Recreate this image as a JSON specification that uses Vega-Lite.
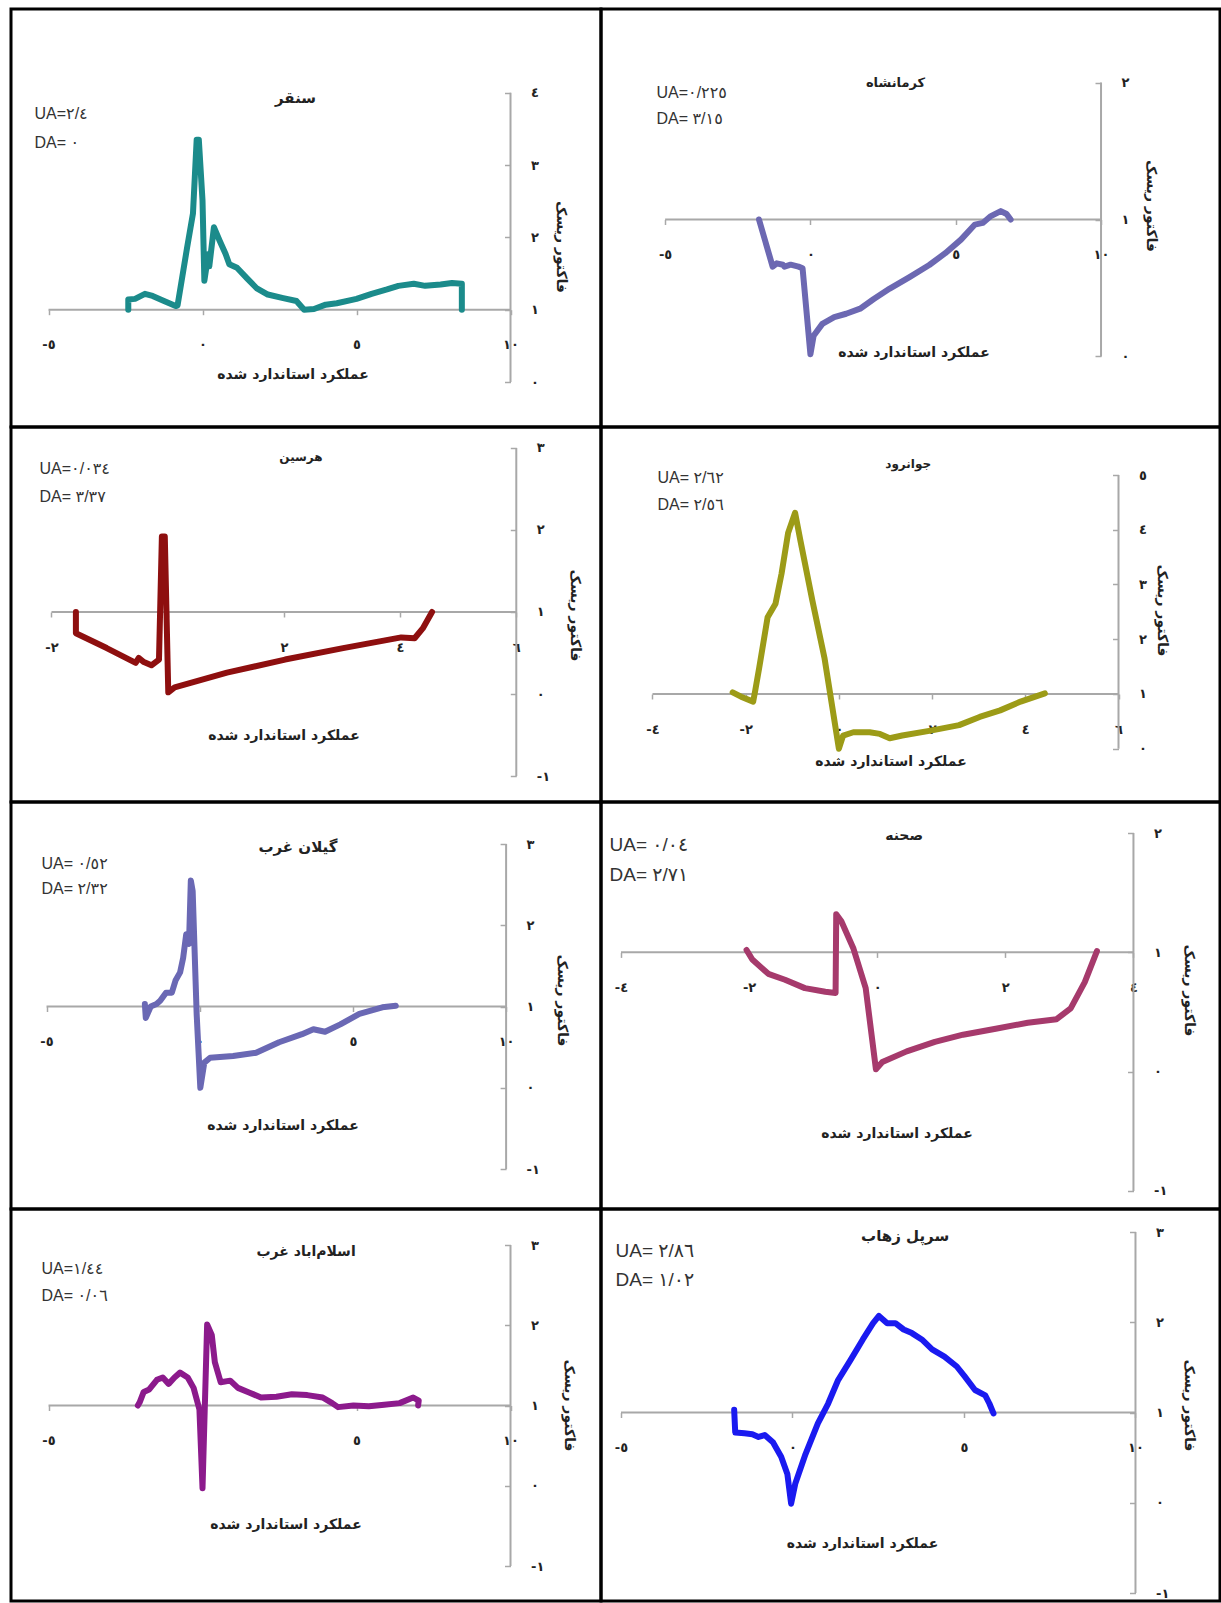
{
"$schema": "https://vega.github.io/schema/vega-lite/v6.json",
"padding": {"left": 9, "top": 7, "right": 0, "bottom": 0},
"background": "white",
"datasets": {
"meta": [
{"p":1,"title":"سنقر","ua":"UA=٢/٤","da":"DA= ٠"},
{"p":2,"title":"کرمانشاه","ua":"UA=٠/٢٢٥","da":"DA= ٣/١٥"},
{"p":3,"title":"هرسین","ua":"UA=٠/٠٣٤","da":"DA= ٣/٣٧"},
{"p":4,"title":"جوانرود","ua":"UA= ٢/٦٢","da":"DA= ٢/٥٦"},
{"p":5,"title":"گیلان غرب","ua":"UA= ٠/٥٢","da":"DA= ٢/٣٢"},
{"p":6,"title":"صحنه","ua":"UA= ٠/٠٤","da":"DA= ٢/٧١"},
{"p":7,"title":"اسلام‌اباد غرب","ua":"UA=١/٤٤","da":"DA= ٠/٠٦"},
{"p":8,"title":"سرپل زهاب","ua":"UA= ٢/٨٦","da":"DA= ١/٠٢"}
],
"pts": [
{"p":1,"i":0,"x":-2.41,"y":1.0},{"p":1,"i":1,"x":-2.41,"y":1.14},{"p":1,"i":2,"x":-2.19,"y":1.15},{"p":1,"i":3,"x":-1.87,"y":1.22},{"p":1,"i":4,"x":-1.62,"y":1.19},{"p":1,"i":5,"x":-1.25,"y":1.12},{"p":1,"i":6,"x":-0.87,"y":1.05},{"p":1,"i":7,"x":-0.81,"y":1.06},{"p":1,"i":8,"x":-0.5,"y":1.86},{"p":1,"i":9,"x":-0.31,"y":2.33},{"p":1,"i":10,"x":-0.19,"y":3.35},{"p":1,"i":11,"x":-0.12,"y":3.35},{"p":1,"i":12,"x":0.0,"y":2.51},{"p":1,"i":13,"x":0.06,"y":1.4},{"p":1,"i":14,"x":0.19,"y":1.77},{"p":1,"i":15,"x":0.22,"y":1.6},{"p":1,"i":16,"x":0.37,"y":2.14},{"p":1,"i":17,"x":0.56,"y":1.95},{"p":1,"i":18,"x":0.75,"y":1.77},{"p":1,"i":19,"x":0.87,"y":1.63},{"p":1,"i":20,"x":1.12,"y":1.58},{"p":1,"i":21,"x":1.43,"y":1.44},{"p":1,"i":22,"x":1.75,"y":1.3},{"p":1,"i":23,"x":2.12,"y":1.21},{"p":1,"i":24,"x":2.62,"y":1.16},{"p":1,"i":25,"x":3.05,"y":1.12},{"p":1,"i":26,"x":3.3,"y":1.0},{"p":1,"i":27,"x":3.62,"y":1.01},{"p":1,"i":28,"x":4.0,"y":1.07},{"p":1,"i":29,"x":4.36,"y":1.09},{"p":1,"i":30,"x":5.0,"y":1.15},{"p":1,"i":31,"x":5.49,"y":1.22},{"p":1,"i":32,"x":5.99,"y":1.28},{"p":1,"i":33,"x":6.36,"y":1.33},{"p":1,"i":34,"x":6.86,"y":1.36},{"p":1,"i":35,"x":7.23,"y":1.33},{"p":1,"i":36,"x":7.73,"y":1.35},{"p":1,"i":37,"x":8.1,"y":1.37},{"p":1,"i":38,"x":8.42,"y":1.36},{"p":1,"i":39,"x":8.42,"y":1.0},
{"p":2,"i":0,"x":-1.77,"y":1.0},{"p":2,"i":1,"x":-1.3,"y":0.656},{"p":2,"i":2,"x":-1.16,"y":0.68},{"p":2,"i":3,"x":-0.95,"y":0.67},{"p":2,"i":4,"x":-0.89,"y":0.656},{"p":2,"i":5,"x":-0.68,"y":0.67},{"p":2,"i":6,"x":-0.41,"y":0.656},{"p":2,"i":7,"x":-0.27,"y":0.644},{"p":2,"i":8,"x":0.0,"y":0.017},{"p":2,"i":9,"x":0.11,"y":0.152},{"p":2,"i":10,"x":0.41,"y":0.238},{"p":2,"i":11,"x":0.82,"y":0.287},{"p":2,"i":12,"x":1.23,"y":0.312},{"p":2,"i":13,"x":1.71,"y":0.349},{"p":2,"i":14,"x":2.18,"y":0.42},{"p":2,"i":15,"x":2.73,"y":0.496},{"p":2,"i":16,"x":3.41,"y":0.58},{"p":2,"i":17,"x":4.09,"y":0.668},{"p":2,"i":18,"x":4.64,"y":0.754},{"p":2,"i":19,"x":5.18,"y":0.853},{"p":2,"i":20,"x":5.66,"y":0.963},{"p":2,"i":21,"x":5.93,"y":0.975},{"p":2,"i":22,"x":6.21,"y":1.025},{"p":2,"i":23,"x":6.55,"y":1.061},{"p":2,"i":24,"x":6.75,"y":1.04},{"p":2,"i":25,"x":6.89,"y":1.0},
{"p":3,"i":0,"x":-1.58,"y":1.0},{"p":3,"i":1,"x":-1.58,"y":0.74},{"p":3,"i":2,"x":-1.05,"y":0.56},{"p":3,"i":3,"x":-0.55,"y":0.38},{"p":3,"i":4,"x":-0.5,"y":0.44},{"p":3,"i":5,"x":-0.41,"y":0.39},{"p":3,"i":6,"x":-0.28,"y":0.35},{"p":3,"i":7,"x":-0.15,"y":0.42},{"p":3,"i":8,"x":-0.1,"y":1.92},{"p":3,"i":9,"x":-0.05,"y":1.92},{"p":3,"i":10,"x":0.01,"y":0.02},{"p":3,"i":11,"x":0.12,"y":0.08},{"p":3,"i":12,"x":1.02,"y":0.26},{"p":3,"i":13,"x":2.02,"y":0.42},{"p":3,"i":14,"x":3.02,"y":0.56},{"p":3,"i":15,"x":4.02,"y":0.69},{"p":3,"i":16,"x":4.25,"y":0.68},{"p":3,"i":17,"x":4.39,"y":0.8},{"p":3,"i":18,"x":4.55,"y":1.0},
{"p":4,"i":0,"x":-2.28,"y":1.03},{"p":4,"i":1,"x":-2.1,"y":0.95},{"p":4,"i":2,"x":-1.84,"y":0.86},{"p":4,"i":3,"x":-1.8,"y":1.04},{"p":4,"i":4,"x":-1.71,"y":1.48},{"p":4,"i":5,"x":-1.53,"y":2.4},{"p":4,"i":6,"x":-1.36,"y":2.65},{"p":4,"i":7,"x":-1.23,"y":3.2},{"p":4,"i":8,"x":-1.09,"y":3.94},{"p":4,"i":9,"x":-0.94,"y":4.31},{"p":4,"i":10,"x":-0.83,"y":3.82},{"p":4,"i":11,"x":-0.57,"y":2.71},{"p":4,"i":12,"x":-0.31,"y":1.66},{"p":4,"i":13,"x":0.0,"y":0.0},{"p":4,"i":14,"x":0.09,"y":0.24},{"p":4,"i":15,"x":0.31,"y":0.3},{"p":4,"i":16,"x":0.66,"y":0.3},{"p":4,"i":17,"x":0.88,"y":0.27},{"p":4,"i":18,"x":1.09,"y":0.19},{"p":4,"i":19,"x":1.36,"y":0.24},{"p":4,"i":20,"x":1.97,"y":0.33},{"p":4,"i":21,"x":2.58,"y":0.43},{"p":4,"i":22,"x":3.02,"y":0.58},{"p":4,"i":23,"x":3.46,"y":0.7},{"p":4,"i":24,"x":3.9,"y":0.86},{"p":4,"i":25,"x":4.42,"y":1.01},
{"p":5,"i":0,"x":-1.79,"y":1.03},{"p":5,"i":1,"x":-1.76,"y":0.86},{"p":5,"i":2,"x":-1.6,"y":1.0},{"p":5,"i":3,"x":-1.41,"y":1.03},{"p":5,"i":4,"x":-1.29,"y":1.07},{"p":5,"i":5,"x":-1.1,"y":1.17},{"p":5,"i":6,"x":-0.91,"y":1.17},{"p":5,"i":7,"x":-0.79,"y":1.32},{"p":5,"i":8,"x":-0.64,"y":1.42},{"p":5,"i":9,"x":-0.54,"y":1.6},{"p":5,"i":10,"x":-0.44,"y":1.89},{"p":5,"i":11,"x":-0.35,"y":1.77},{"p":5,"i":12,"x":-0.29,"y":2.55},{"p":5,"i":13,"x":-0.23,"y":2.42},{"p":5,"i":14,"x":-0.1,"y":0.91},{"p":5,"i":15,"x":0.02,"y":0.0},{"p":5,"i":16,"x":0.15,"y":0.31},{"p":5,"i":17,"x":0.34,"y":0.37},{"p":5,"i":18,"x":1.09,"y":0.39},{"p":5,"i":19,"x":1.84,"y":0.43},{"p":5,"i":20,"x":2.59,"y":0.56},{"p":5,"i":21,"x":3.34,"y":0.66},{"p":5,"i":22,"x":3.71,"y":0.72},{"p":5,"i":23,"x":4.09,"y":0.69},{"p":5,"i":24,"x":4.59,"y":0.78},{"p":5,"i":25,"x":5.21,"y":0.91},{"p":5,"i":26,"x":5.96,"y":0.99},{"p":5,"i":27,"x":6.4,"y":1.01},
{"p":6,"i":0,"x":-2.04,"y":1.02},{"p":6,"i":1,"x":-1.95,"y":0.94},{"p":6,"i":2,"x":-1.7,"y":0.82},{"p":6,"i":3,"x":-1.44,"y":0.77},{"p":6,"i":4,"x":-1.13,"y":0.7},{"p":6,"i":5,"x":-0.81,"y":0.67},{"p":6,"i":6,"x":-0.65,"y":0.66},{"p":6,"i":7,"x":-0.64,"y":1.32},{"p":6,"i":8,"x":-0.56,"y":1.26},{"p":6,"i":9,"x":-0.37,"y":1.03},{"p":6,"i":10,"x":-0.18,"y":0.7},{"p":6,"i":11,"x":-0.02,"y":0.02},{"p":6,"i":12,"x":0.08,"y":0.08},{"p":6,"i":13,"x":0.46,"y":0.17},{"p":6,"i":14,"x":0.9,"y":0.25},{"p":6,"i":15,"x":1.34,"y":0.31},{"p":6,"i":16,"x":1.85,"y":0.36},{"p":6,"i":17,"x":2.35,"y":0.41},{"p":6,"i":18,"x":2.8,"y":0.44},{"p":6,"i":19,"x":3.02,"y":0.53},{"p":6,"i":20,"x":3.24,"y":0.75},{"p":6,"i":21,"x":3.43,"y":1.01},
{"p":7,"i":0,"x":-2.1,"y":1.0},{"p":7,"i":1,"x":-2.04,"y":1.04},{"p":7,"i":2,"x":-1.91,"y":1.17},{"p":7,"i":3,"x":-1.73,"y":1.2},{"p":7,"i":4,"x":-1.48,"y":1.32},{"p":7,"i":5,"x":-1.29,"y":1.35},{"p":7,"i":6,"x":-1.1,"y":1.27},{"p":7,"i":7,"x":-0.91,"y":1.35},{"p":7,"i":8,"x":-0.73,"y":1.41},{"p":7,"i":9,"x":-0.48,"y":1.35},{"p":7,"i":10,"x":-0.29,"y":1.22},{"p":7,"i":11,"x":-0.1,"y":0.95},{"p":7,"i":12,"x":0.0,"y":-0.03},{"p":7,"i":13,"x":0.15,"y":2.01},{"p":7,"i":14,"x":0.3,"y":1.88},{"p":7,"i":15,"x":0.4,"y":1.54},{"p":7,"i":16,"x":0.59,"y":1.29},{"p":7,"i":17,"x":0.9,"y":1.31},{"p":7,"i":18,"x":1.15,"y":1.22},{"p":7,"i":19,"x":1.53,"y":1.16},{"p":7,"i":20,"x":1.9,"y":1.1},{"p":7,"i":21,"x":2.4,"y":1.11},{"p":7,"i":22,"x":2.9,"y":1.14},{"p":7,"i":23,"x":3.4,"y":1.13},{"p":7,"i":24,"x":3.9,"y":1.1},{"p":7,"i":25,"x":4.21,"y":1.03},{"p":7,"i":26,"x":4.4,"y":0.98},{"p":7,"i":27,"x":4.9,"y":1.0},{"p":7,"i":28,"x":5.4,"y":0.99},{"p":7,"i":29,"x":5.9,"y":1.01},{"p":7,"i":30,"x":6.4,"y":1.03},{"p":7,"i":31,"x":6.84,"y":1.1},{"p":7,"i":32,"x":7.02,"y":1.06},{"p":7,"i":33,"x":7.0,"y":1.0},
{"p":8,"i":0,"x":-1.7,"y":1.03},{"p":8,"i":1,"x":-1.67,"y":0.78},{"p":8,"i":2,"x":-1.4,"y":0.77},{"p":8,"i":3,"x":-1.17,"y":0.76},{"p":8,"i":4,"x":-0.99,"y":0.73},{"p":8,"i":5,"x":-0.81,"y":0.75},{"p":8,"i":6,"x":-0.57,"y":0.67},{"p":8,"i":7,"x":-0.33,"y":0.51},{"p":8,"i":8,"x":-0.15,"y":0.32},{"p":8,"i":9,"x":-0.04,"y":-0.01},{"p":8,"i":10,"x":0.08,"y":0.21},{"p":8,"i":11,"x":0.38,"y":0.54},{"p":8,"i":12,"x":0.74,"y":0.88},{"p":8,"i":13,"x":1.04,"y":1.1},{"p":8,"i":14,"x":1.33,"y":1.36},{"p":8,"i":15,"x":1.69,"y":1.58},{"p":8,"i":16,"x":2.05,"y":1.81},{"p":8,"i":17,"x":2.35,"y":1.99},{"p":8,"i":18,"x":2.52,"y":2.07},{"p":8,"i":19,"x":2.76,"y":1.99},{"p":8,"i":20,"x":3.0,"y":1.99},{"p":8,"i":21,"x":3.24,"y":1.92},{"p":8,"i":22,"x":3.48,"y":1.88},{"p":8,"i":23,"x":3.77,"y":1.81},{"p":8,"i":24,"x":4.07,"y":1.7},{"p":8,"i":25,"x":4.43,"y":1.62},{"p":8,"i":26,"x":4.79,"y":1.51},{"p":8,"i":27,"x":5.02,"y":1.4},{"p":8,"i":28,"x":5.32,"y":1.25},{"p":8,"i":29,"x":5.62,"y":1.19},{"p":8,"i":30,"x":5.74,"y":1.1},{"p":8,"i":31,"x":5.86,"y":0.99}
]
},
"columns": 2,
"spacing": 0,
"bounds": "flush",
"align": "each",
"concat": [
{"width": 590, "height": 418, "layer": [
 {"data": {"name": "meta"}, "transform": [{"filter": "datum.p == 1"}], "mark": {"type": "rule", "color": "#a8a8a8", "strokeWidth": 2}, "encoding": {"x": {"datum": -5, "type": "quantitative"}, "x2": {"datum": 10}, "y": {"datum": 1, "type": "quantitative"}}},
 {"data": {"name": "meta"}, "transform": [{"filter": "datum.p == 1"}], "mark": {"type": "rule", "color": "#a8a8a8", "strokeWidth": 2}, "encoding": {"x": {"datum": 10, "type": "quantitative"}, "y": {"datum": 0, "type": "quantitative"}, "y2": {"datum": 4}}},
 {"data": {"name": "pts"}, "transform": [{"filter": "datum.p == 1"}], "mark": {"type": "line", "color": "#1b8b8b", "strokeWidth": 6, "strokeJoin": "round", "strokeCap": "round"},
  "encoding": {
   "x": {"field": "x", "type": "quantitative", "scale": {"domain": [-6.218, 12.938], "nice": false, "zero": false}, "axis": {"orient": "bottom", "format": "d", "values": [-5, 0, 5, 10], "offset": -117.3, "title": "عملکرد استاندارد شده", "titlePadding": 16, "titleX": 281.5, "labelExpr": "replace(replace(replace(replace(replace(replace(replace(replace(replace(replace(replace(datum.label,'−','-'),'0','٠'),'1','١'),'2','٢'),'3','٣'),'4','٤'),'5','٥'),'6','٦'),'7','٧'),'8','٨'),'9','٩')"}},
   "y": {"field": "y", "type": "quantitative", "scale": {"domain": [-0.622, 5.159], "nice": false, "zero": false}, "axis": {"orient": "right", "format": "d", "values": [0, 1, 2, 3, 4], "offset": -90.5, "title": "فاکتور ریسک", "titlePadding": 15, "titleY": 237.5, "labelExpr": "replace(replace(replace(replace(replace(replace(replace(replace(replace(replace(replace(datum.label,'−','-'),'0','٠'),'1','١'),'2','٢'),'3','٣'),'4','٤'),'5','٥'),'6','٦'),'7','٧'),'8','٨'),'9','٩')"}},
   "order": {"field": "i"}}},
 {"data": {"name": "meta"}, "transform": [{"filter": "datum.p == 1"}], "mark": {"type": "text", "font": "DejaVu Sans", "fontWeight": "bold", "fontSize": 15, "color": "#222", "align": "center", "baseline": "middle"}, "encoding": {"x": {"datum": 3.02, "type": "quantitative"}, "y": {"datum": 3.93, "type": "quantitative"}, "text": {"field": "title"}}},
 {"data": {"name": "meta"}, "transform": [{"filter": "datum.p == 1"}], "mark": {"type": "text", "font": "Liberation Sans, DejaVu Sans", "fontSize": 16, "color": "#333", "align": "left", "baseline": "middle"}, "encoding": {"x": {"datum": -5.455, "type": "quantitative"}, "y": {"datum": 3.70, "type": "quantitative"}, "text": {"field": "ua"}}},
 {"data": {"name": "meta"}, "transform": [{"filter": "datum.p == 1"}], "mark": {"type": "text", "font": "Liberation Sans, DejaVu Sans", "fontSize": 16, "color": "#333", "align": "left", "baseline": "middle"}, "encoding": {"x": {"datum": -5.455, "type": "quantitative"}, "y": {"datum": 3.304, "type": "quantitative"}, "text": {"field": "da"}}}
]},
{"width": 619, "height": 418, "layer": [
 {"data": {"name": "meta"}, "transform": [{"filter": "datum.p == 2"}], "mark": {"type": "rule", "color": "#a8a8a8", "strokeWidth": 2}, "encoding": {"x": {"datum": -5, "type": "quantitative"}, "x2": {"datum": 10}, "y": {"datum": 1, "type": "quantitative"}}},
 {"data": {"name": "meta"}, "transform": [{"filter": "datum.p == 2"}], "mark": {"type": "rule", "color": "#a8a8a8", "strokeWidth": 2}, "encoding": {"x": {"datum": 10, "type": "quantitative"}, "y": {"datum": 0, "type": "quantitative"}, "y2": {"datum": 2}}},
 {"data": {"name": "pts"}, "transform": [{"filter": "datum.p == 2"}], "mark": {"type": "line", "color": "#6c68b2", "strokeWidth": 6, "strokeJoin": "round", "strokeCap": "round"},
  "encoding": {
   "x": {"field": "x", "type": "quantitative", "scale": {"domain": [-7.206, 14.094], "nice": false, "zero": false}, "axis": {"orient": "bottom", "format": "d", "values": [-5, 0, 5, 10], "offset": -207.5, "title": "عملکرد استاندارد شده", "titlePadding": 84, "titleX": 312.5, "labelExpr": "replace(replace(replace(replace(replace(replace(replace(replace(replace(replace(replace(datum.label,'−','-'),'0','٠'),'1','١'),'2','٢'),'3','٣'),'4','٤'),'5','٥'),'6','٦'),'7','٧'),'8','٨'),'9','٩')"}},
   "y": {"field": "y", "type": "quantitative", "scale": {"domain": [-0.5146, 2.5365], "nice": false, "zero": false}, "axis": {"orient": "right", "format": "d", "values": [0, 1, 2], "offset": -119, "title": "فاکتور ریسک", "titlePadding": 15, "titleY": 196.5, "labelExpr": "replace(replace(replace(replace(replace(replace(replace(replace(replace(replace(replace(datum.label,'−','-'),'0','٠'),'1','١'),'2','٢'),'3','٣'),'4','٤'),'5','٥'),'6','٦'),'7','٧'),'8','٨'),'9','٩')"}},
   "order": {"field": "i"}}},
 {"data": {"name": "meta"}, "transform": [{"filter": "datum.p == 2"}], "mark": {"type": "text", "font": "DejaVu Sans", "fontWeight": "bold", "fontSize": 13, "color": "#222", "align": "center", "baseline": "middle"}, "encoding": {"x": {"datum": 2.928, "type": "quantitative"}, "y": {"datum": 1.993, "type": "quantitative"}, "text": {"field": "title"}}},
 {"data": {"name": "meta"}, "transform": [{"filter": "datum.p == 2"}], "mark": {"type": "text", "font": "Liberation Sans, DejaVu Sans", "fontSize": 16, "color": "#333", "align": "left", "baseline": "middle"}, "encoding": {"x": {"datum": -5.296, "type": "quantitative"}, "y": {"datum": 1.927, "type": "quantitative"}, "text": {"field": "ua"}}},
 {"data": {"name": "meta"}, "transform": [{"filter": "datum.p == 2"}], "mark": {"type": "text", "font": "Liberation Sans, DejaVu Sans", "fontSize": 16, "color": "#333", "align": "left", "baseline": "middle"}, "encoding": {"x": {"datum": -5.296, "type": "quantitative"}, "y": {"datum": 1.73, "type": "quantitative"}, "text": {"field": "da"}}}
]},
{"width": 590, "height": 375, "layer": [
 {"data": {"name": "meta"}, "transform": [{"filter": "datum.p == 3"}], "mark": {"type": "rule", "color": "#a8a8a8", "strokeWidth": 2}, "encoding": {"x": {"datum": -2, "type": "quantitative"}, "x2": {"datum": 6}, "y": {"datum": 1, "type": "quantitative"}}},
 {"data": {"name": "meta"}, "transform": [{"filter": "datum.p == 3"}], "mark": {"type": "rule", "color": "#a8a8a8", "strokeWidth": 2}, "encoding": {"x": {"datum": 6, "type": "quantitative"}, "y": {"datum": -1, "type": "quantitative"}, "y2": {"datum": 3}}},
 {"data": {"name": "pts"}, "transform": [{"filter": "datum.p == 3"}], "mark": {"type": "line", "color": "#8e0f0f", "strokeWidth": 6, "strokeJoin": "round", "strokeCap": "round"},
  "encoding": {
   "x": {"field": "x", "type": "quantitative", "scale": {"domain": [-2.697, 7.458], "nice": false, "zero": false}, "axis": {"orient": "bottom", "format": "d", "values": [-2, 0, 2, 4, 6], "offset": -190, "title": "عملکرد استاندارد شده", "titlePadding": 74, "titleX": 272.5, "labelExpr": "replace(replace(replace(replace(replace(replace(replace(replace(replace(replace(replace(datum.label,'−','-'),'0','٠'),'1','١'),'2','٢'),'3','٣'),'4','٤'),'5','٥'),'6','٦'),'7','٧'),'8','٨'),'9','٩')"}},
   "y": {"field": "y", "type": "quantitative", "scale": {"domain": [-1.317, 3.256], "nice": false, "zero": false}, "axis": {"orient": "right", "format": "d", "values": [-1, 0, 1, 2, 3], "offset": -84.7, "title": "فاکتور ریسک", "titlePadding": 18, "titleY": 188, "labelExpr": "replace(replace(replace(replace(replace(replace(replace(replace(replace(replace(replace(datum.label,'−','-'),'0','٠'),'1','١'),'2','٢'),'3','٣'),'4','٤'),'5','٥'),'6','٦'),'7','٧'),'8','٨'),'9','٩')"}},
   "order": {"field": "i"}}},
 {"data": {"name": "meta"}, "transform": [{"filter": "datum.p == 3"}], "mark": {"type": "text", "font": "DejaVu Sans", "fontWeight": "bold", "fontSize": 12, "color": "#222", "align": "center", "baseline": "middle"}, "encoding": {"x": {"datum": 2.294, "type": "quantitative"}, "y": {"datum": 2.885, "type": "quantitative"}, "text": {"field": "title"}}},
 {"data": {"name": "meta"}, "transform": [{"filter": "datum.p == 3"}], "mark": {"type": "text", "font": "Liberation Sans, DejaVu Sans", "fontSize": 16, "color": "#333", "align": "left", "baseline": "middle"}, "encoding": {"x": {"datum": -2.206, "type": "quantitative"}, "y": {"datum": 2.744, "type": "quantitative"}, "text": {"field": "ua"}}},
 {"data": {"name": "meta"}, "transform": [{"filter": "datum.p == 3"}], "mark": {"type": "text", "font": "Liberation Sans, DejaVu Sans", "fontSize": 16, "color": "#333", "align": "left", "baseline": "middle"}, "encoding": {"x": {"datum": -2.206, "type": "quantitative"}, "y": {"datum": 2.397, "type": "quantitative"}, "text": {"field": "da"}}}
]},
{"width": 619, "height": 375, "layer": [
 {"data": {"name": "meta"}, "transform": [{"filter": "datum.p == 4"}], "mark": {"type": "rule", "color": "#a8a8a8", "strokeWidth": 2}, "encoding": {"x": {"datum": -4, "type": "quantitative"}, "x2": {"datum": 6}, "y": {"datum": 1, "type": "quantitative"}}},
 {"data": {"name": "meta"}, "transform": [{"filter": "datum.p == 4"}], "mark": {"type": "rule", "color": "#a8a8a8", "strokeWidth": 2}, "encoding": {"x": {"datum": 6, "type": "quantitative"}, "y": {"datum": 0, "type": "quantitative"}, "y2": {"datum": 5}}},
 {"data": {"name": "pts"}, "transform": [{"filter": "datum.p == 4"}], "mark": {"type": "line", "color": "#9c9b17", "strokeWidth": 6, "strokeJoin": "round", "strokeCap": "round"},
  "encoding": {
   "x": {"field": "x", "type": "quantitative", "scale": {"domain": [-5.105, 8.178], "nice": false, "zero": false}, "axis": {"orient": "bottom", "format": "d", "values": [-4, -2, 0, 2, 4, 6], "offset": -108, "title": "عملکرد استاندارد شده", "titlePadding": 18, "titleX": 289.5, "labelExpr": "replace(replace(replace(replace(replace(replace(replace(replace(replace(replace(replace(datum.label,'−','-'),'0','٠'),'1','١'),'2','٢'),'3','٣'),'4','٤'),'5','٥'),'6','٦'),'7','٧'),'8','٨'),'9','٩')"}},
   "y": {"field": "y", "type": "quantitative", "scale": {"domain": [-0.974, 5.877], "nice": false, "zero": false}, "axis": {"orient": "right", "format": "d", "values": [0, 1, 2, 3, 4, 5], "offset": -101.5, "title": "فاکتور ریسک", "titlePadding": 8, "titleY": 183, "labelExpr": "replace(replace(replace(replace(replace(replace(replace(replace(replace(replace(replace(datum.label,'−','-'),'0','٠'),'1','١'),'2','٢'),'3','٣'),'4','٤'),'5','٥'),'6','٦'),'7','٧'),'8','٨'),'9','٩')"}},
   "order": {"field": "i"}}},
 {"data": {"name": "meta"}, "transform": [{"filter": "datum.p == 4"}], "mark": {"type": "text", "font": "DejaVu Sans", "fontWeight": "bold", "fontSize": 12, "color": "#222", "align": "center", "baseline": "middle"}, "encoding": {"x": {"datum": 1.487, "type": "quantitative"}, "y": {"datum": 5.208, "type": "quantitative"}, "text": {"field": "title"}}},
 {"data": {"name": "meta"}, "transform": [{"filter": "datum.p == 4"}], "mark": {"type": "text", "font": "Liberation Sans, DejaVu Sans", "fontSize": 16, "color": "#333", "align": "left", "baseline": "middle"}, "encoding": {"x": {"datum": -3.893, "type": "quantitative"}, "y": {"datum": 4.945, "type": "quantitative"}, "text": {"field": "ua"}}},
 {"data": {"name": "meta"}, "transform": [{"filter": "datum.p == 4"}], "mark": {"type": "text", "font": "Liberation Sans, DejaVu Sans", "fontSize": 16, "color": "#333", "align": "left", "baseline": "middle"}, "encoding": {"x": {"datum": -3.893, "type": "quantitative"}, "y": {"datum": 4.459, "type": "quantitative"}, "text": {"field": "da"}}}
]},
{"width": 590, "height": 407, "layer": [
 {"data": {"name": "meta"}, "transform": [{"filter": "datum.p == 5"}], "mark": {"type": "rule", "color": "#a8a8a8", "strokeWidth": 2}, "encoding": {"x": {"datum": -5, "type": "quantitative"}, "x2": {"datum": 10}, "y": {"datum": 1, "type": "quantitative"}}},
 {"data": {"name": "meta"}, "transform": [{"filter": "datum.p == 5"}], "mark": {"type": "rule", "color": "#a8a8a8", "strokeWidth": 2}, "encoding": {"x": {"datum": 10, "type": "quantitative"}, "y": {"datum": -1, "type": "quantitative"}, "y2": {"datum": 3}}},
 {"data": {"name": "pts"}, "transform": [{"filter": "datum.p == 5"}], "mark": {"type": "line", "color": "#6a68b4", "strokeWidth": 6, "strokeJoin": "round", "strokeCap": "round"},
  "encoding": {
   "x": {"field": "x", "type": "quantitative", "scale": {"domain": [-6.159, 13.097], "nice": false, "zero": false}, "axis": {"orient": "bottom", "format": "d", "values": [-5, 0, 5, 10], "offset": -202.5, "title": "عملکرد استاندارد شده", "titlePadding": 70, "titleX": 271.5, "labelExpr": "replace(replace(replace(replace(replace(replace(replace(replace(replace(replace(replace(datum.label,'−','-'),'0','٠'),'1','١'),'2','٢'),'3','٣'),'4','٤'),'5','٥'),'6','٦'),'7','٧'),'8','٨'),'9','٩')"}},
   "y": {"field": "y", "type": "quantitative", "scale": {"domain": [-1.492, 3.517], "nice": false, "zero": false}, "axis": {"orient": "right", "format": "d", "values": [-1, 0, 1, 2, 3], "offset": -94.9, "title": "فاکتور ریسک", "titlePadding": 15, "titleY": 198, "labelExpr": "replace(replace(replace(replace(replace(replace(replace(replace(replace(replace(replace(datum.label,'−','-'),'0','٠'),'1','١'),'2','٢'),'3','٣'),'4','٤'),'5','٥'),'6','٦'),'7','٧'),'8','٨'),'9','٩')"}},
   "order": {"field": "i"}}},
 {"data": {"name": "meta"}, "transform": [{"filter": "datum.p == 5"}], "mark": {"type": "text", "font": "DejaVu Sans", "fontWeight": "bold", "fontSize": 15, "color": "#222", "align": "center", "baseline": "middle"}, "encoding": {"x": {"datum": 3.205, "type": "quantitative"}, "y": {"datum": 2.963, "type": "quantitative"}, "text": {"field": "title"}}},
 {"data": {"name": "meta"}, "transform": [{"filter": "datum.p == 5"}], "mark": {"type": "text", "font": "Liberation Sans, DejaVu Sans", "fontSize": 16, "color": "#333", "align": "left", "baseline": "middle"}, "encoding": {"x": {"datum": -5.164, "type": "quantitative"}, "y": {"datum": 2.759, "type": "quantitative"}, "text": {"field": "ua"}}},
 {"data": {"name": "meta"}, "transform": [{"filter": "datum.p == 5"}], "mark": {"type": "text", "font": "Liberation Sans, DejaVu Sans", "fontSize": 16, "color": "#333", "align": "left", "baseline": "middle"}, "encoding": {"x": {"datum": -5.164, "type": "quantitative"}, "y": {"datum": 2.446, "type": "quantitative"}, "text": {"field": "da"}}}
]},
{"width": 619, "height": 407, "layer": [
 {"data": {"name": "meta"}, "transform": [{"filter": "datum.p == 6"}], "mark": {"type": "rule", "color": "#a8a8a8", "strokeWidth": 2}, "encoding": {"x": {"datum": -4, "type": "quantitative"}, "x2": {"datum": 4}, "y": {"datum": 1, "type": "quantitative"}}},
 {"data": {"name": "meta"}, "transform": [{"filter": "datum.p == 6"}], "mark": {"type": "rule", "color": "#a8a8a8", "strokeWidth": 2}, "encoding": {"x": {"datum": 4, "type": "quantitative"}, "y": {"datum": -1, "type": "quantitative"}, "y2": {"datum": 2}}},
 {"data": {"name": "pts"}, "transform": [{"filter": "datum.p == 6"}], "mark": {"type": "line", "color": "#a63a6c", "strokeWidth": 6, "strokeJoin": "round", "strokeCap": "round"},
  "encoding": {
   "x": {"field": "x", "type": "quantitative", "scale": {"domain": [-4.312, 5.351], "nice": false, "zero": false}, "axis": {"orient": "bottom", "format": "d", "values": [-4, -2, 0, 2, 4], "offset": -256.6, "title": "عملکرد استاندارد شده", "titlePadding": 132, "titleX": 295.5, "labelExpr": "replace(replace(replace(replace(replace(replace(replace(replace(replace(replace(replace(datum.label,'−','-'),'0','٠'),'1','١'),'2','٢'),'3','٣'),'4','٤'),'5','٥'),'6','٦'),'7','٧'),'8','٨'),'9','٩')"}},
   "y": {"field": "y", "type": "quantitative", "scale": {"domain": [-1.151, 2.26], "nice": false, "zero": false}, "axis": {"orient": "right", "format": "d", "values": [-1, 0, 1, 2], "offset": -86.5, "title": "فاکتور ریسک", "titlePadding": 15, "titleY": 188, "labelExpr": "replace(replace(replace(replace(replace(replace(replace(replace(replace(replace(replace(datum.label,'−','-'),'0','٠'),'1','١'),'2','٢'),'3','٣'),'4','٤'),'5','٥'),'6','٦'),'7','٧'),'8','٨'),'9','٩')"}},
   "order": {"field": "i"}}},
 {"data": {"name": "meta"}, "transform": [{"filter": "datum.p == 6"}], "mark": {"type": "text", "font": "DejaVu Sans", "fontWeight": "bold", "fontSize": 14, "color": "#222", "align": "center", "baseline": "middle"}, "encoding": {"x": {"datum": 0.419, "type": "quantitative"}, "y": {"datum": 1.975, "type": "quantitative"}, "text": {"field": "title"}}},
 {"data": {"name": "meta"}, "transform": [{"filter": "datum.p == 6"}], "mark": {"type": "text", "font": "Liberation Sans, DejaVu Sans", "fontSize": 19, "color": "#333", "align": "left", "baseline": "middle"}, "encoding": {"x": {"datum": -4.179, "type": "quantitative"}, "y": {"datum": 1.9, "type": "quantitative"}, "text": {"field": "ua"}}},
 {"data": {"name": "meta"}, "transform": [{"filter": "datum.p == 6"}], "mark": {"type": "text", "font": "Liberation Sans, DejaVu Sans", "fontSize": 19, "color": "#333", "align": "left", "baseline": "middle"}, "encoding": {"x": {"datum": -4.179, "type": "quantitative"}, "y": {"datum": 1.648, "type": "quantitative"}, "text": {"field": "da"}}}
]},
{"width": 590, "height": 392, "layer": [
 {"data": {"name": "meta"}, "transform": [{"filter": "datum.p == 7"}], "mark": {"type": "rule", "color": "#a8a8a8", "strokeWidth": 2}, "encoding": {"x": {"datum": -5, "type": "quantitative"}, "x2": {"datum": 10}, "y": {"datum": 1, "type": "quantitative"}}},
 {"data": {"name": "meta"}, "transform": [{"filter": "datum.p == 7"}], "mark": {"type": "rule", "color": "#a8a8a8", "strokeWidth": 2}, "encoding": {"x": {"datum": 10, "type": "quantitative"}, "y": {"datum": -1, "type": "quantitative"}, "y2": {"datum": 3}}},
 {"data": {"name": "pts"}, "transform": [{"filter": "datum.p == 7"}], "mark": {"type": "line", "color": "#8c1a8c", "strokeWidth": 6, "strokeJoin": "round", "strokeCap": "round"},
  "encoding": {
   "x": {"field": "x", "type": "quantitative", "scale": {"domain": [-6.218, 12.938], "nice": false, "zero": false}, "axis": {"orient": "bottom", "format": "d", "values": [-5, 0, 5, 10], "offset": -195.5, "title": "عملکرد استاندارد شده", "titlePadding": 70, "titleX": 274.5, "labelExpr": "replace(replace(replace(replace(replace(replace(replace(replace(replace(replace(replace(datum.label,'−','-'),'0','٠'),'1','١'),'2','٢'),'3','٣'),'4','٤'),'5','٥'),'6','٦'),'7','٧'),'8','٨'),'9','٩')"}},
   "y": {"field": "y", "type": "quantitative", "scale": {"domain": [-1.436, 3.449], "nice": false, "zero": false}, "axis": {"orient": "right", "format": "d", "values": [-1, 0, 1, 2, 3], "offset": -90.5, "title": "فاکتور ریسک", "titlePadding": 18, "titleY": 196, "labelExpr": "replace(replace(replace(replace(replace(replace(replace(replace(replace(replace(replace(datum.label,'−','-'),'0','٠'),'1','١'),'2','٢'),'3','٣'),'4','٤'),'5','٥'),'6','٦'),'7','٧'),'8','٨'),'9','٩')"}},
   "order": {"field": "i"}}},
 {"data": {"name": "meta"}, "transform": [{"filter": "datum.p == 7"}], "mark": {"type": "text", "font": "DejaVu Sans", "fontWeight": "bold", "fontSize": 14, "color": "#222", "align": "center", "baseline": "middle"}, "encoding": {"x": {"datum": 3.363, "type": "quantitative"}, "y": {"datum": 2.913, "type": "quantitative"}, "text": {"field": "title"}}},
 {"data": {"name": "meta"}, "transform": [{"filter": "datum.p == 7"}], "mark": {"type": "text", "font": "Liberation Sans, DejaVu Sans", "fontSize": 16, "color": "#333", "align": "left", "baseline": "middle"}, "encoding": {"x": {"datum": -5.228, "type": "quantitative"}, "y": {"datum": 2.705, "type": "quantitative"}, "text": {"field": "ua"}}},
 {"data": {"name": "meta"}, "transform": [{"filter": "datum.p == 7"}], "mark": {"type": "text", "font": "Liberation Sans, DejaVu Sans", "fontSize": 16, "color": "#333", "align": "left", "baseline": "middle"}, "encoding": {"x": {"datum": -5.228, "type": "quantitative"}, "y": {"datum": 2.36, "type": "quantitative"}, "text": {"field": "da"}}}
]},
{"width": 619, "height": 392, "layer": [
 {"data": {"name": "meta"}, "transform": [{"filter": "datum.p == 8"}], "mark": {"type": "rule", "color": "#a8a8a8", "strokeWidth": 2}, "encoding": {"x": {"datum": -5, "type": "quantitative"}, "x2": {"datum": 10}, "y": {"datum": 1, "type": "quantitative"}}},
 {"data": {"name": "meta"}, "transform": [{"filter": "datum.p == 8"}], "mark": {"type": "rule", "color": "#a8a8a8", "strokeWidth": 2}, "encoding": {"x": {"datum": 10, "type": "quantitative"}, "y": {"datum": -1, "type": "quantitative"}, "y2": {"datum": 3}}},
 {"data": {"name": "pts"}, "transform": [{"filter": "datum.p == 8"}], "mark": {"type": "line", "color": "#1a1af0", "strokeWidth": 6, "strokeJoin": "round", "strokeCap": "round"},
  "encoding": {
   "x": {"field": "x", "type": "quantitative", "scale": {"domain": [-5.583, 12.464], "nice": false, "zero": false}, "axis": {"orient": "bottom", "format": "d", "values": [-5, 0, 5, 10], "offset": -188.5, "title": "عملکرد استاندارد شده", "titlePadding": 82, "titleX": 261, "labelExpr": "replace(replace(replace(replace(replace(replace(replace(replace(replace(replace(replace(datum.label,'−','-'),'0','٠'),'1','١'),'2','٢'),'3','٣'),'4','٤'),'5','٥'),'6','٦'),'7','٧'),'8','٨'),'9','٩')"}},
   "y": {"field": "y", "type": "quantitative", "scale": {"domain": [-1.088, 3.255], "nice": false, "zero": false}, "axis": {"orient": "right", "format": "d", "values": [-1, 0, 1, 2, 3], "offset": -84.5, "title": "فاکتور ریسک", "titlePadding": 13, "titleY": 196, "labelExpr": "replace(replace(replace(replace(replace(replace(replace(replace(replace(replace(replace(datum.label,'−','-'),'0','٠'),'1','١'),'2','٢'),'3','٣'),'4','٤'),'5','٥'),'6','٦'),'7','٧'),'8','٨'),'9','٩')"}},
   "order": {"field": "i"}}},
 {"data": {"name": "meta"}, "transform": [{"filter": "datum.p == 8"}], "mark": {"type": "text", "font": "DejaVu Sans", "fontWeight": "bold", "fontSize": 15, "color": "#222", "align": "center", "baseline": "middle"}, "encoding": {"x": {"datum": 3.283, "type": "quantitative"}, "y": {"datum": 2.956, "type": "quantitative"}, "text": {"field": "title"}}},
 {"data": {"name": "meta"}, "transform": [{"filter": "datum.p == 8"}], "mark": {"type": "text", "font": "Liberation Sans, DejaVu Sans", "fontSize": 19, "color": "#333", "align": "left", "baseline": "middle"}, "encoding": {"x": {"datum": -5.16, "type": "quantitative"}, "y": {"datum": 2.79, "type": "quantitative"}, "text": {"field": "ua"}}},
 {"data": {"name": "meta"}, "transform": [{"filter": "datum.p == 8"}], "mark": {"type": "text", "font": "Liberation Sans, DejaVu Sans", "fontSize": 19, "color": "#333", "align": "left", "baseline": "middle"}, "encoding": {"x": {"datum": -5.16, "type": "quantitative"}, "y": {"datum": 2.468, "type": "quantitative"}, "text": {"field": "da"}}}
]}
],
"config": {
 "view": {"stroke": "#000000", "strokeWidth": 3},
 "axis": {"domain": false, "grid": false, "tickColor": "#a8a8a8", "tickWidth": 1.5, "labelFont": "DejaVu Sans", "labelFontSize": 13, "labelFontWeight": "bold", "labelColor": "#222222", "titleFont": "DejaVu Sans", "titleFontSize": 14, "titleFontWeight": "bold", "titleColor": "#222222", "labelOverlap": false, "labelFlush": false},
 "axisX": {"tickSize": 5, "labelPadding": 24},
 "axisY": {"tickSize": -6, "labelPadding": 26, "titleAngle": 90, "labelAlign": "left"}
}
}
